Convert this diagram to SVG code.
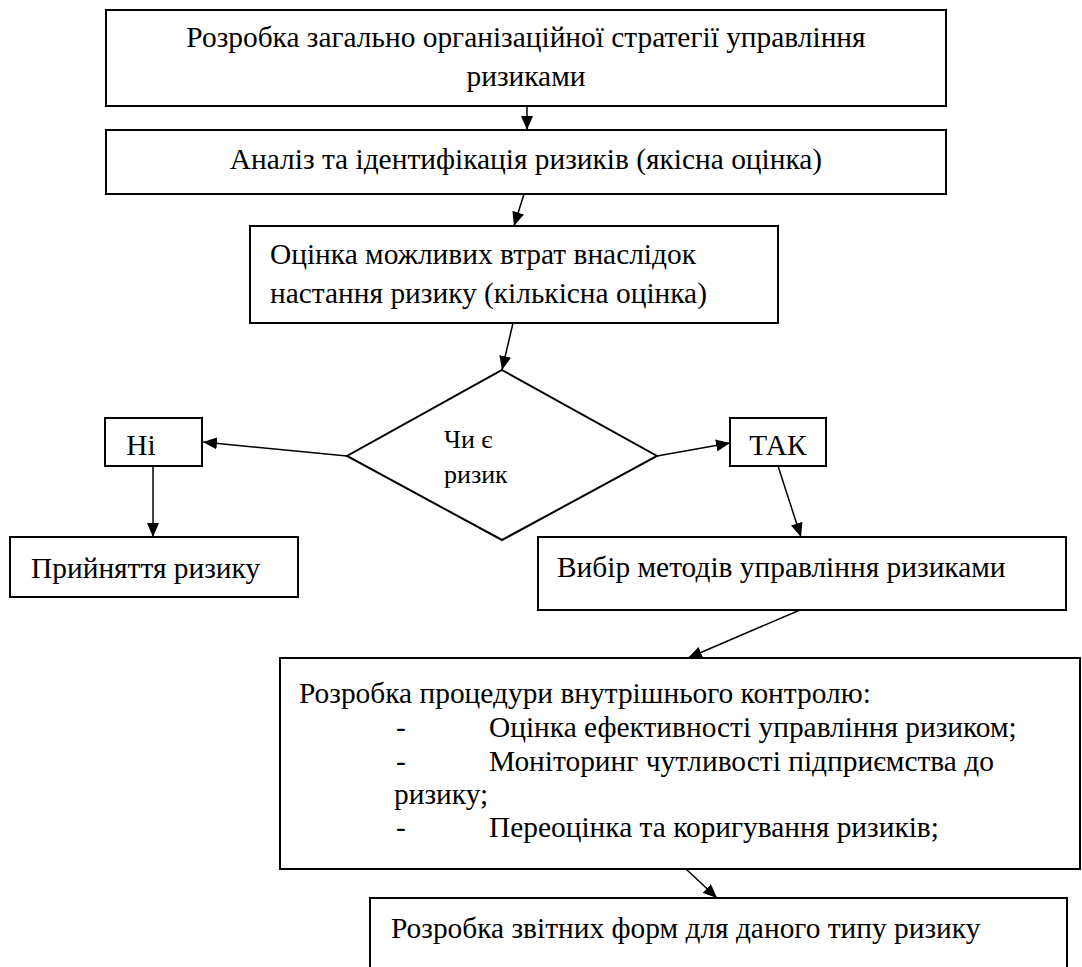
<svg xmlns="http://www.w3.org/2000/svg" width="1082" height="967" viewBox="0 0 1082 967">
<defs>
<marker id="ah" viewBox="0 0 14 12" refX="14" refY="6" markerWidth="14" markerHeight="12" markerUnits="userSpaceOnUse" orient="auto"><path d="M0,0 L14,6 L0,12 z" fill="#000"/></marker>
<style>
.box{fill:#fff;stroke:#000;stroke-width:2}
text{font-family:"Liberation Serif","Times New Roman",serif;fill:#000}
.t{font-size:29.4px}
.s{font-size:26px}
.c{text-anchor:middle}
.e{stroke:#000;stroke-width:1.5;fill:none;marker-end:url(#ah)}
</style>
</defs>
<rect width="1082" height="967" fill="#fff"/>
<g id="connectors">
<line class="e" x1="527" y1="106" x2="527" y2="130"/>
<line class="e" x1="524" y1="194" x2="514" y2="226"/>
<line class="e" x1="513" y1="323" x2="502" y2="370"/>
<line class="e" x1="347" y1="456" x2="203" y2="442"/>
<line class="e" x1="657" y1="456" x2="730" y2="443"/>
<line class="e" x1="153" y1="466" x2="153" y2="537"/>
<line class="e" x1="778" y1="466" x2="801" y2="537"/>
<line class="e" x1="800" y1="610" x2="688" y2="658"/>
<line class="e" x1="686" y1="869" x2="717" y2="898"/>
</g>
<g id="n1"><rect class="box" x="106" y="10" width="840" height="96"/>
<text class="t c" x="526" y="47">Розробка загально організаційної стратегії управління</text>
<text class="t c" x="526" y="86">ризиками</text></g>
<g id="n2"><rect class="box" x="106" y="130" width="840" height="64"/>
<text class="t c" x="526" y="169">Аналіз та ідентифікація ризиків (якісна оцінка)</text></g>
<g id="n3"><rect class="box" x="250" y="226" width="528" height="97"/>
<text class="t" x="270" y="264">Оцінка можливих втрат внаслідок</text>
<text class="t" x="270" y="303">настання ризику (кількісна оцінка)</text></g>
<g id="n4"><polygon class="box" points="502,370 657,456 502,540 347,456"/>
<text class="s" x="444" y="448">Чи є</text>
<text class="s" x="444" y="483">ризик</text></g>
<g id="n5"><rect class="box" x="105" y="418" width="97" height="48"/>
<text class="t c" x="141" y="455">Ні</text></g>
<g id="n6"><rect class="box" x="730" y="418" width="96" height="48"/>
<text class="t c" x="778" y="455">ТАК</text></g>
<g id="n7"><rect class="box" x="10" y="537" width="288" height="60"/>
<text class="t" x="31" y="578">Прийняття ризику</text></g>
<g id="n8"><rect class="box" x="538" y="537" width="528" height="73"/>
<text class="t" x="557" y="577">Вибір методів управління ризиками</text></g>
<g id="n9"><rect class="box" x="280" y="658" width="800" height="211"/>
<text class="t" x="299" y="703">Розробка процедури внутрішнього контролю:</text>
<text class="t" x="396" y="737">-</text><text class="t" x="489" y="737">Оцінка ефективності управління ризиком;</text>
<text class="t" x="396" y="771">-</text><text class="t" x="489" y="771">Моніторинг чутливості підприємства до</text>
<text class="t" x="394" y="804">ризику;</text>
<text class="t" x="396" y="837">-</text><text class="t" x="489" y="837">Переоцінка та коригування ризиків;</text></g>
<g id="n10"><rect class="box" x="370" y="898" width="697" height="80"/>
<text class="t" x="391" y="938">Розробка звітних форм для даного типу ризику</text></g>
</svg>
